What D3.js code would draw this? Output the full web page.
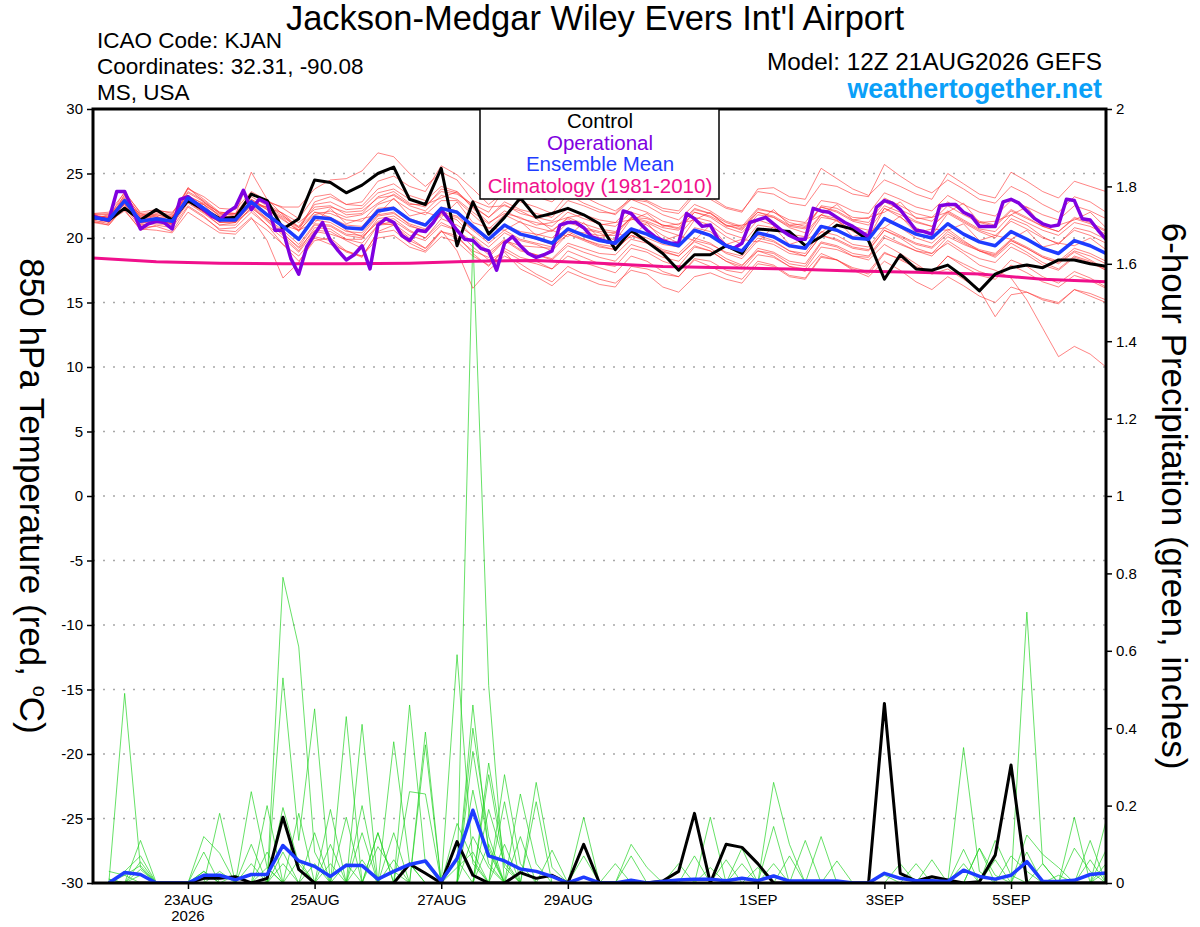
<!DOCTYPE html>
<html><head><meta charset="utf-8">
<script src="https://cdn.jsdelivr.net/npm/d3@7"></script>
<style>
body{margin:0;background:#fff;}
svg{display:block;font-family:"Liberation Sans",Arial,Helvetica,sans-serif;}
</style>
</head><body>
<svg id="chart" width="1200" height="927"></svg>
<script>
// ---------------- DATA ----------------
const titleText = "Jackson-Medgar Wiley Evers Int'l Airport";
const infoLines = ["ICAO Code: KJAN", "Coordinates: 32.31, -90.08", "MS, USA"];
const modelText = "Model: 12Z 21AUG2026 GEFS";
const siteText = "weathertogether.net";
const legendLabels = ["Control", "Operational", "Ensemble Mean", "Climatology (1981-2010)"];
const leftTitle = ["850 hPa Temperature (red, ", "o", "C)"];
const rightTitle = "6-hour Precipitation (green, inches)";

const runStartUTC = Date.UTC(2026, 7, 21, 12);   // 12Z 21 AUG 2026
const forecastHours = 384;
const tempTicks = [30, 25, 20, 15, 10, 5, 0, -5, -10, -15, -20, -25, -30];
const gridTemps = [25, 20, 15, 10, 5, 0, -5, -10, -15, -20, -25];
const precipTicks = [0, 0.2, 0.4, 0.6, 0.8, 1, 1.2, 1.4, 1.6, 1.8, 2];
const dateTicks = [Date.UTC(2026,7,23), Date.UTC(2026,7,25), Date.UTC(2026,7,27), Date.UTC(2026,7,29), Date.UTC(2026,8,1), Date.UTC(2026,8,3), Date.UTC(2026,8,5)];
const dateTickLabels = ["23AUG", "25AUG", "27AUG", "29AUG", "1SEP", "3SEP", "5SEP"];
const yearLabel = "2026";

// 850 hPa temperature, 6-hourly from 0h
const controlTemp = [21.6,21.4,22.3,21.4,22.2,21.4,22.9,22.2, 21.5,21.6,23.4,22.9,20.7,21.5,24.5,24.3, 23.5,24.1,25.0,25.5,23.0,22.6,25.4,19.4, 22.8,20.3,21.6,23.1,21.6,21.9,22.3,21.8, 21.1,19.1,20.6,19.7,18.8,17.5,18.7,18.7, 19.4,18.8,20.7,20.6,20.5,19.4,20.1,21.0, 20.7,19.8,16.8,18.7,17.6,17.5,17.9,17.0, 15.9,17.2,17.7,17.9,17.7,18.3,18.3,18.0, 17.8];
const meanTemp = [21.6,21.4,22.9,21.3,21.5,21.3,23.1,22.3, 21.4,21.4,22.8,21.8,20.9,19.9,21.6,21.5, 20.8,20.7,22.1,22.3,21.4,21.0,22.3,22.0, 20.9,19.9,21.0,20.3,20.0,19.6,20.7,20.2, 19.8,19.6,20.7,20.3,19.7,19.4,20.6,20.2, 19.4,19.0,20.4,20.1,19.4,19.2,20.9,20.6, 20.0,19.9,21.5,20.9,20.3,20.0,21.1,20.3, 19.7,19.4,20.5,19.9,19.2,18.8,19.8,19.4, 18.8];
// operational, 3-hourly from 0h
const operationalTemp = [21.7,21.5,21.4,23.6,23.6,22.2,20.7,21.1, 21.3,21.2,20.7,23.0,23.2,22.7,22.2,21.7, 21.4,22.0,22.4,23.7,22.2,23.0,22.7,20.6, 20.6,18.4,17.2,19.3,20.3,21.2,19.8,19.0, 18.3,18.7,19.4,17.6,21.0,21.5,21.2,20.2, 19.8,20.6,20.5,21.2,22.2,21.4,20.6,19.9, 19.8,19.2,19.0,17.5,19.6,20.1,19.4,18.8, 18.5,18.7,19.0,21.0,21.2,21.2,20.8,20.1, 19.9,19.7,19.6,22.1,21.9,21.2,20.6,20.1, 19.8,19.6,19.6,21.9,21.5,20.9,21.0,19.9, 19.4,19.2,19.6,21.2,21.4,21.6,21.1,20.6, 20.2,19.9,19.9,22.3,22.1,22.0,21.6,21.2, 20.9,20.5,20.1,22.4,22.9,22.7,22.2,21.4, 20.6,20.5,20.3,22.5,22.6,22.6,22.0,21.7, 20.9,20.9,20.9,22.8,23.0,22.7,22.1,21.5, 21.1,20.9,21.0,23.0,22.9,21.5,21.4,20.6, 19.9];
// climatology, daily from 0h
const climatologyTemp = [18.45,18.15,18.05,18.0,18.0,18.05,18.2,18.25,18.05,17.8,17.7,17.6,17.45,17.35,17.2,16.8,16.6];

const ensTemp01 = [21.9,21.2,23.4,21.7,21.7,21.2,23.9,22.8, 21.7,21.6,23.4,22.8,22.4,22.4,23.8,24.5, 24.6,25.2,26.6,26.3,25.0,24.0,25.1,24.5, 22.9,22.4,22.5,22.1,21.5,20.6,21.5,20.7, 20.4,19.8,21.5,21.0,20.2,19.6,21.4,21.0, 20.1,19.5,21.0,20.8,20.3,19.8,21.6,21.4, 20.5,20.0,22.3,21.6,20.8,20.2,21.9,21.2, 20.5,20.0,21.5,21.0,20.1,19.5,20.8,20.5, 19.9];
const ensTemp02 = [21.4,21.6,22.6,21.0,21.2,21.5,22.8,22.0, 21.0,21.2,22.3,21.5,20.4,19.2,20.6,20.5, 19.8,19.2,21.0,21.3,20.5,20.0,21.5,21.0, 20.2,19.3,20.4,19.8,19.5,19.0,20.3,19.9, 19.5,19.3,20.4,20.0,19.5,19.3,20.8,20.5, 19.5,19.0,20.2,19.8,19.0,18.6,20.2,19.8, 19.2,19.0,20.6,20.0,19.2,18.8,19.6,18.8, 17.9,17.5,16.9,15.2,13.0,10.8,11.6,11.0, 10.0];
const ensTemp03 = [21.2,21.0,22.4,20.8,20.9,20.5,22.4,21.6, 20.7,20.8,22.0,21.0,19.5,18.2,19.8,20.0, 19.0,18.6,20.4,20.6,19.6,19.0,20.5,20.2, 18.8,17.8,19.2,18.5,18.2,17.6,19.0,18.5, 18.0,17.8,19.2,18.9,18.2,17.8,19.3,19.0, 18.2,17.6,19.0,18.8,18.0,17.8,19.6,19.3, 18.6,18.3,19.5,18.8,18.0,17.2,17.6,16.8, 16.0,13.9,15.6,15.8,15.2,14.9,16.0,15.5, 15.0];
const ensTemp04 = [21.8,21.9,22.2,20.6,21.0,20.8,22.5,21.7, 20.6,20.5,21.6,19.8,16.9,18.1,20.0,19.5, 19.0,18.5,20.5,21.0,20.0,19.2,20.6,19.0, 16.1,17.5,18.6,18.0,17.2,16.6,17.8,17.2, 16.8,16.5,17.5,17.2,16.2,15.8,17.0,17.3, 16.8,16.5,18.0,17.8,17.0,16.8,18.5,18.3, 17.6,17.2,18.8,18.4,17.8,17.3,18.6,18.0, 17.4,17.0,18.3,17.8,17.0,16.5,17.4,16.9, 16.2];
const ensTemp05 = [21.7,21.5,23.2,21.6,21.9,21.7,23.3,22.6, 21.8,21.9,23.0,22.3,21.6,20.8,22.4,22.5, 21.8,21.9,23.2,23.6,22.7,22.4,23.8,23.5, 22.4,21.6,22.8,22.2,21.9,21.6,22.9,22.5, 22.0,21.9,23.2,22.9,22.3,22.1,23.5,23.2, 22.4,22.1,23.6,23.4,22.7,22.5,24.2,24.0, 23.4,23.2,25.7,24.8,24.0,23.5,24.5,23.8, 23.0,22.7,24.0,23.4,22.6,22.0,23.2,22.8, 22.0];
const ensTemp06 = [21.5,21.3,23.0,21.5,21.8,21.6,23.5,22.8, 21.9,21.8,25.1,23.0,21.8,20.6,22.8,23.2, 22.6,22.8,24.4,24.8,24.0,23.6,25.6,24.9, 23.8,22.6,23.6,22.8,22.4,21.9,23.4,22.7, 22.2,21.8,23.0,22.8,22.1,21.9,23.3,23.0, 22.3,22.0,23.8,23.9,23.2,23.0,25.4,24.6, 23.8,23.3,24.5,24.0,23.4,23.0,25.0,24.2, 23.4,23.1,25.1,24.4,23.6,23.1,24.4,24.0, 23.6];
const ensTemp07 = [21.6,21.5,23.0,21.4,21.6,21.6,23.2,22.4, 21.6,21.5,23.0,22.2,21.5,20.5,22.0,21.9, 21.4,21.3,22.6,23.0,22.2,21.8,22.9,22.9, 21.8,20.7,21.8,21.2,20.8,20.5,21.6,21.1, 20.7,20.5,21.5,21.2,20.6,20.2,21.6,21.3, 20.4,20.0,21.4,21.0,20.3,20.1,21.8,21.5, 20.9,20.6,22.3,21.8,21.2,20.9,22.1,21.4, 20.7,20.5,21.8,21.2,20.6,20.2,21.2,20.9, 20.3];
const ensTemp08 = [21.3,21.0,22.5,21.0,21.1,21.0,22.7,21.9, 21.0,21.0,22.4,21.3,20.2,19.0,20.8,20.7, 19.9,19.6,21.0,21.1,20.2,19.8,21.0,20.6, 19.7,18.7,19.8,19.0,18.7,18.3,19.4,18.9, 18.5,18.2,19.5,19.1,18.5,18.2,19.4,19.0, 18.2,17.8,19.2,18.9,18.2,18.0,19.7,19.4, 18.8,18.6,20.2,19.6,19.0,18.6,19.8,19.0, 18.4,18.1,19.3,18.7,17.9,17.5,18.5,18.1, 17.5];
const ensTemp09 = [21.5,21.8,22.7,21.9,21.4,21.1,22.9,22.6, 21.3,21.6,22.6,22.4,21.0,20.6,21.2,22.3, 21.1,21.5,21.8,23.1,21.7,22.0,21.6,22.8, 21.2,20.8,20.6,21.3,20.2,20.6,20.1,21.2, 20.0,20.4,20.0,21.2,19.8,20.2,19.8,21.0, 19.5,19.9,19.7,20.9,19.5,19.9,20.4,21.4, 20.1,20.5,20.8,21.7,20.4,20.7,20.6,21.1, 19.8,20.2,19.9,20.6,19.3,19.6,19.4,20.0, 19.1];
const ensTemp10 = [21.2,21.3,22.1,20.7,20.6,20.4,22.0,21.2, 20.4,20.3,21.5,20.6,19.5,18.6,20.1,19.8, 18.9,18.6,20.0,20.2,19.3,18.9,20.1,19.7, 18.6,17.9,19.0,18.3,18.0,17.6,18.6,18.1, 17.7,17.3,18.6,18.2,17.4,17.0,18.3,17.8, 17.2,16.8,18.2,17.9,17.1,16.9,18.6,18.3, 17.7,17.4,18.9,18.3,17.7,17.3,18.6,17.8, 17.1,16.8,17.9,17.3,16.6,16.2,17.1,16.7, 16.1];
const ensTemp11 = [21.9,22.0,23.5,22.0,22.2,21.9,23.8,23.2, 22.3,22.2,23.6,22.9,22.3,21.5,23.2,23.4, 22.6,22.5,23.8,24.2,23.3,22.9,24.0,23.6, 22.5,21.6,22.6,21.9,21.6,21.3,22.3,21.8, 21.4,21.2,22.4,22.0,21.3,21.0,22.3,21.9, 21.0,20.6,22.0,21.7,21.0,20.8,22.5,22.3, 21.6,21.5,23.1,22.5,21.9,21.6,22.8,22.0, 21.3,21.0,22.2,21.6,20.9,20.5,21.6,21.2, 20.6];
const ensTemp12 = [21.7,21.2,22.8,21.2,21.3,21.1,22.8,22.0, 21.2,21.3,22.5,21.4,20.3,19.3,21.0,20.9, 20.2,20.0,21.3,21.5,20.6,20.0,21.2,20.6, 19.3,18.3,18.9,17.6,17.0,16.3,17.4,16.9, 16.4,16.2,17.8,17.6,17.2,17.0,18.4,18.2, 17.5,17.3,18.7,18.5,17.8,17.6,19.3,19.1, 18.6,18.5,20.0,19.5,19.0,18.8,20.1,19.5, 19.0,18.6,19.8,19.2,18.5,18.0,18.9,18.3, 17.6];
const ensTemp13 = [21.6,21.7,23.3,21.8,21.8,21.5,23.6,22.9, 21.9,21.7,23.2,22.5,21.7,20.9,22.6,22.8, 22.2,22.3,23.5,23.8,23.0,22.5,23.6,23.4, 22.6,22.0,23.8,23.4,23.2,22.8,23.9,23.2, 22.6,22.1,23.0,22.5,21.8,21.4,22.6,22.1, 21.3,20.9,22.3,22.0,21.2,20.9,22.4,22.0, 21.3,21.0,22.5,22.0,21.3,20.9,22.0,21.3, 20.6,20.2,21.3,20.7,20.0,19.6,20.6,20.2, 19.6];
const ensTemp14 = [21.5,21.4,22.9,21.2,21.4,21.2,23.0,22.1, 21.3,21.3,22.7,21.7,20.8,19.9,21.4,21.2, 20.5,20.4,21.8,22.0,21.0,20.5,21.8,21.6, 20.6,19.6,20.6,19.9,19.6,19.3,20.3,19.8, 19.3,19.1,20.2,19.8,19.1,18.8,20.0,19.6, 18.8,18.4,19.8,19.5,18.8,18.6,20.2,19.9, 19.3,19.1,20.6,20.1,19.5,19.2,20.3,19.6, 19.0,18.7,19.8,19.2,18.5,18.1,19.0,18.6, 18.0];
const ensTemp15 = [21.8,21.6,23.6,21.9,22.0,21.8,23.9,23.0, 22.0,21.9,23.5,22.6,21.9,20.8,22.0,21.6, 20.6,20.1,21.2,21.0,19.8,19.2,20.5,20.0, 19.0,18.5,19.8,19.4,19.3,19.2,20.6,20.4, 20.2,20.2,21.6,21.5,21.0,20.8,22.2,21.9, 21.2,20.8,22.0,21.6,20.8,20.4,21.8,21.3, 20.6,20.2,21.6,20.8,20.0,19.6,20.7,19.8, 19.0,18.5,19.6,18.9,18.1,17.6,18.6,18.2, 17.5];
const ensTemp16 = [21.4,21.1,22.7,21.1,21.4,21.2,22.9,22.2, 21.2,21.2,22.6,21.5,20.6,19.5,21.1,21.0, 20.3,20.2,21.7,21.9,21.1,20.7,22.0,21.7, 20.7,19.8,21.0,20.5,20.3,20.0,21.2,20.8, 20.5,20.4,21.6,21.3,20.8,20.6,22.0,21.7, 21.0,20.7,22.2,22.0,21.4,21.2,22.9,22.7, 22.1,21.9,23.5,23.0,22.4,22.1,23.3,22.6, 22.0,21.7,22.9,22.4,21.8,21.4,22.5,22.1, 21.5];
const ensTemp17 = [21.6,21.3,22.8,21.2,21.5,21.4,23.0,22.2, 21.4,21.5,22.9,21.9,21.0,20.0,21.7,21.6, 21.0,20.9,22.3,22.4,21.5,21.1,22.4,22.1, 21.0,20.0,21.0,20.3,19.9,19.5,20.5,19.9, 19.4,19.1,20.2,19.7,19.0,18.6,19.7,19.2, 18.4,17.9,19.0,18.6,17.8,17.4,18.8,18.3, 17.5,17.0,18.2,17.5,16.6,16.0,17.0,16.3, 15.5,15.0,16.2,15.8,15.3,15.0,16.0,15.7, 15.2];
const ensTemp18 = [21.7,21.6,23.1,21.6,21.3,21.7,22.9,22.6, 21.7,21.6,22.9,22.2,21.4,20.6,21.8,22.1, 21.6,21.8,22.7,23.4,22.6,22.6,23.1,23.6, 22.3,21.2,21.9,21.6,21.0,21.2,21.6,21.8, 21.0,21.2,21.4,21.9,20.9,21.1,21.4,22.0, 20.9,21.0,21.3,22.2,21.0,21.1,21.8,22.6, 21.4,21.6,22.0,22.8,21.5,21.6,22.0,22.7, 21.2,21.3,21.8,22.4,20.9,21.0,21.4,22.0, 20.8];
const ensTemp19 = [21.4,21.5,22.6,21.5,21.7,21.0,23.2,22.0, 21.5,21.2,22.2,21.0,20.0,18.9,20.5,20.3, 19.9,19.9,21.5,21.7,20.9,20.6,21.9,21.4, 20.1,18.9,19.9,19.1,18.7,18.4,19.6,19.2, 18.8,18.7,19.9,19.6,18.9,18.6,19.8,19.5, 18.9,18.6,20.0,19.7,19.0,18.8,20.5,20.2, 19.5,19.3,20.8,20.2,19.6,19.3,20.5,19.7, 19.1,18.8,19.9,19.3,18.6,18.2,19.2,18.8, 18.2];
const ensTemp20 = [21.9,21.8,22.9,21.7,22.1,22.0,23.2,22.7, 22.0,21.9,22.8,22.4,21.9,21.2,22.2,22.4, 22.0,22.1,23.1,23.3,22.5,22.1,23.3,23.0, 22.0,21.1,22.1,21.5,21.2,20.9,22.0,21.5, 21.1,20.9,22.0,21.6,21.0,20.7,22.0,21.6, 20.8,20.4,21.8,21.6,20.9,20.7,22.4,22.1, 21.4,21.2,22.8,22.2,21.6,21.3,22.5,21.8, 21.2,20.9,22.1,21.5,20.9,20.5,21.5,21.1, 20.5];

// 6-hour precipitation (inches), 6-hourly from 6h
const controlPrecip = [0,0,0,0,0,0,0.012,0.012, 0.016,0,0.012,0.17,0.035,0,0,0, 0,0,0,0.049,0.025,0,0.107,0.02, 0,0,0.027,0.012,0.02,0,0.1,0, 0,0,0,0.005,0.03,0.18,0,0.1, 0.092,0.05,0,0,0,0,0,0, 0,0.464,0.025,0.005,0.016,0.008,0,0.003, 0.072,0.305,0,0,0,0,0,0];
const meanPrecip = [0,0.027,0.022,0,0,0,0.02,0.02, 0.008,0.022,0.022,0.097,0.057,0.043,0.017,0.046, 0.045,0.01,0.03,0.048,0.057,0.005,0.063,0.188, 0.07,0.057,0.036,0.03,0.017,0,0.015,0, 0,0.007,0,0.004,0.008,0.01,0.01,0.006, 0.012,0.006,0.018,0.005,0.005,0.005,0.005,0, 0,0.025,0.012,0.006,0.006,0.004,0.033,0.017, 0.01,0.02,0.055,0.004,0.004,0.007,0.022,0.026];
const ensPrecip01 = [0.03,0.02,0,0,0,0,0,0, 0,0,0,0.79,0.61,0.08,0,0, 0,0,0,0,0,0,0,0.24, 0.05,0,0,0,0,0,0,0, 0,0,0,0,0,0.07,0,0, 0,0,0,0,0,0,0,0, 0,0,0,0,0,0,0,0.09, 0,0,0,0,0,0,0,0];
const ensPrecip02 = [0,0.49,0.04,0,0,0,0,0, 0,0,0,0,0,0,0.05,0, 0,0,0.365,0.05,0,0,0,0, 0.28,0.04,0,0,0,0,0,0, 0,0,0,0,0,0,0.17,0, 0,0,0,0,0,0,0,0, 0,0,0,0,0,0,0,0.09, 0.02,0,0,0,0,0,0,0];
const ensPrecip03 = [0.01,0,0.11,0,0,0,0,0, 0,0,0.08,0,0,0,0,0.05, 0,0,0,0,0,0,0,0.12, 0.04,0,0,0,0,0,0,0, 0,0,0,0,0,0,0.04,0, 0,0,0,0,0,0,0,0, 0,0,0,0,0,0,0,0, 0.11,0.02,0,0,0,0,0,0];
const ensPrecip04 = [0,0.03,0.07,0,0,0,0,0, 0,0,0,0.195,0.05,0,0,0, 0,0,0.13,0,0,0,0,0, 0.19,0.05,0,0,0,0,0,0, 0,0,0,0,0,0,0,0.06, 0,0,0,0,0,0,0,0, 0,0,0,0,0,0,0,0, 0,0.07,0.03,0,0,0,0,0];
const ensPrecip05 = [0,0,0.055,0,0,0,0,0, 0.02,0,0,0.08,0,0,0,0, 0,0.13,0,0,0,0,0,0, 0.31,0.06,0,0,0,0,0,0, 0,0,0,0,0,0,0,0, 0.09,0,0,0,0,0,0,0, 0,0,0,0,0,0,0,0, 0,0,0.70,0.05,0,0,0,0];
const ensPrecip06 = [0,0.02,0.045,0,0,0,0,0, 0,0,0,0.05,0,0,0,0, 0,0.094,0.03,0,0,0,0,0, 0.1,0,0,0,0,0,0,0, 0,0,0,0,0,0,0,0, 0.05,0,0,0,0,0,0,0, 0,0,0,0,0,0,0,0, 0,0,0.124,0.074,0.04,0,0,0];
const ensPrecip07 = [0,0,0.035,0,0,0,0,0, 0,0,0,0,0.18,0,0,0, 0,0,0.06,0,0,0,0,0, 0,0.28,0.05,0,0,0,0,0, 0,0,0,0,0,0,0,0, 0,0.04,0,0,0,0,0,0, 0,0,0,0,0,0,0,0, 0,0,0.08,0,0,0,0,0];
const ensPrecip08 = [0.01,0,0.02,0,0,0,0,0, 0,0,0,0,0.06,0,0,0, 0,0,0,0.46,0.05,0,0,0, 0,0.21,0,0,0,0,0,0, 0,0,0,0,0,0,0,0, 0,0,0.26,0.1,0,0,0,0, 0,0,0,0,0,0,0,0, 0,0,0,0,0,0.17,0,0];
const ensPrecip09 = [0,0,0,0,0,0,0.12,0.077, 0,0,0,0,0,0.05,0,0, 0,0,0,0.236,0.23,0,0,0, 0,0.1,0,0,0,0,0,0, 0,0,0,0,0,0,0,0, 0,0,0.146,0,0,0,0,0, 0,0,0,0,0,0,0,0, 0,0,0,0,0,0.09,0.03,0];
const ensPrecip10 = [0,0,0,0,0,0,0.08,0, 0,0,0,0,0,0.13,0,0, 0,0,0,0.05,0,0,0,0, 0,0,0.23,0.05,0,0,0,0, 0,0,0,0,0,0,0,0, 0,0,0.05,0,0,0,0,0, 0,0,0,0,0,0,0,0, 0,0,0,0,0,0,0.11,0];
const ensPrecip11 = [0,0,0,0,0,0,0.03,0, 0,0,0,0,0,0,0.19,0, 0,0,0,0,0.39,0,0,0, 0,0,0.12,0,0,0,0,0, 0,0,0,0,0,0,0,0, 0,0,0,0.07,0,0,0,0, 0,0,0,0,0,0,0,0, 0,0,0,0,0,0,0,0.16];
const ensPrecip12 = [0,0,0,0,0,0,0.03,0, 0,0,0,0,0,0,0.1,0, 0,0,0,0,0.357,0,0,0, 0,0,0,0.26,0.04,0,0,0, 0,0,0,0,0,0,0,0, 0,0,0,0,0.11,0,0,0, 0,0,0,0,0,0,0,0, 0,0,0,0,0,0,0,0.085];
const ensPrecip13 = [0,0,0,0,0,0,0,0.18, 0,0,0,0,0,0,0,0.43, 0,0,0,0,0,0,0.59,0.05, 0,0,0,0.21,0,0,0,0, 0,0,0,0,0,0,0,0, 0,0,0,0,0,0.12,0,0, 0,0,0,0,0,0,0,0, 0,0,0,0,0,0,0,0.05];
const ensPrecip14 = [0,0,0,0,0,0,0,0.03, 0,0,0,0,0,0,0,0.17, 0,0,0,0,0,0,0.154,0.06, 0,0,0,0,0.085,0,0,0, 0,0,0,0,0,0,0,0, 0,0,0,0,0,0,0.057,0, 0,0,0,0,0,0,0,0, 0,0,0,0,0,0,0.06,0];
const ensPrecip15 = [0,0,0,0,0,0,0,0, 0,0.236,0.04,0,0,0,0,0, 0.41,0,0,0,0,0,0.06,0, 0,0,0,0,0,0,0.17,0, 0,0,0,0,0,0,0,0, 0,0,0,0,0,0,0,0, 0,0.02,0,0,0,0,0.05,0, 0,0,0,0,0,0,0,0];
const ensPrecip16 = [0,0,0,0,0,0,0,0, 0,0.1,0,0,0,0,0,0, 0.2,0,0,0,0,0,0.04,0.08, 0,0,0,0,0,0,0.07,0, 0,0,0,0,0,0,0,0, 0,0,0,0,0,0,0,0, 0,0,0.05,0,0,0,0,0, 0,0,0,0.05,0,0,0,0];
const ensPrecip17 = [0,0,0,0,0,0,0,0, 0,0.05,0,0,0,0,0,0, 0.13,0,0,0,0,0,0,1.67, 0.51,0,0,0,0,0,0,0, 0.05,0,0,0,0,0,0,0, 0,0,0,0,0,0,0,0, 0,0,0,0.05,0,0,0,0, 0.06,0,0,0,0,0,0,0];
const ensPrecip18 = [0,0,0,0,0,0,0,0, 0,0,0.2,0,0,0,0,0, 0.06,0,0,0,0,0,0,0.46, 0.08,0,0,0,0,0,0,0, 0,0.1,0.04,0,0,0,0,0, 0,0,0,0,0,0,0,0, 0,0,0,0,0.06,0,0,0, 0,0,0,0,0.02,0,0,0];
const ensPrecip19 = [0,0,0,0,0,0,0,0, 0,0,0.04,0,0,0,0,0, 0,0.13,0,0,0,0,0,0.40, 0.12,0,0,0,0,0,0,0, 0,0.07,0,0,0,0,0,0, 0,0,0,0,0,0,0,0, 0,0,0,0,0,0,0.35,0.03, 0,0,0,0,0,0,0,0];
const ensPrecip20 = [0,0,0,0,0,0,0,0, 0,0,0,0.53,0.11,0.45,0,0, 0,0,0,0,0,0,0,0.34, 0.09,0,0,0,0,0,0,0, 0,0,0,0,0.05,0,0,0, 0,0,0,0,0,0,0,0, 0,0,0,0,0,0,0.087,0, 0,0,0,0,0,0,0,0.03];

const ensembleTemp = [ensTemp01,ensTemp02,ensTemp03,ensTemp04,ensTemp05,ensTemp06,ensTemp07,ensTemp08,ensTemp09,ensTemp10,ensTemp11,ensTemp12,ensTemp13,ensTemp14,ensTemp15,ensTemp16,ensTemp17,ensTemp18,ensTemp19,ensTemp20];
const ensemblePrecip = [ensPrecip01,ensPrecip02,ensPrecip03,ensPrecip04,ensPrecip05,ensPrecip06,ensPrecip07,ensPrecip08,ensPrecip09,ensPrecip10,ensPrecip11,ensPrecip12,ensPrecip13,ensPrecip14,ensPrecip15,ensPrecip16,ensPrecip17,ensPrecip18,ensPrecip19,ensPrecip20];

// ---------------- DRAWING ----------------
const HOUR = 3600e3;
const M = {left: 93, right: 1106, top: 109, bottom: 883};
const svg = d3.select("#chart");

const x = d3.scaleUtc()
  .domain([new Date(runStartUTC), new Date(runStartUTC + forecastHours * HOUR)])
  .range([M.left, M.right]);
const yT = d3.scaleLinear().domain([-30, 30]).range([M.bottom, M.top]);
const yP = d3.scaleLinear().domain([0, 2]).range([M.bottom, M.top]);

const series = (arr, stepH, offsetH) => arr.map((v, i) => ({t: new Date(runStartUTC + (offsetH + i * stepH) * HOUR), v}));
const lineT = d3.line().x(d => x(d.t)).y(d => yT(d.v));
const lineP = d3.line().x(d => x(d.t)).y(d => yP(d.v));

svg.append("defs").append("clipPath").attr("id", "plotclip")
  .append("rect").attr("x", M.left).attr("y", M.top).attr("width", M.right - M.left).attr("height", M.bottom - M.top);

// grid
svg.append("g").selectAll("line").data(gridTemps).join("line")
  .attr("x1", M.left).attr("x2", M.right)
  .attr("y1", d => yT(d)).attr("y2", d => yT(d))
  .attr("stroke", "#a8a8a8").attr("stroke-width", 1.4).attr("stroke-dasharray", "2,8");

const plot = svg.append("g").attr("clip-path", "url(#plotclip)");

// ensemble temps
plot.append("g").selectAll("path").data(ensembleTemp).join("path")
  .attr("d", d => lineT(series(d, 6, 0)))
  .attr("fill", "none").attr("stroke", "#ff3030").attr("stroke-width", 0.8).attr("stroke-opacity", 0.75);
// ensemble precip
plot.append("g").selectAll("path").data(ensemblePrecip).join("path")
  .attr("d", d => lineP(series(d, 6, 6)))
  .attr("fill", "none").attr("stroke", "#1ed21e").attr("stroke-width", 0.8).attr("stroke-opacity", 0.85);
// climatology
plot.append("path").attr("d", lineT(series(climatologyTemp, 24, 0)))
  .attr("fill", "none").attr("stroke", "#f0108c").attr("stroke-width", 3);
// control
plot.append("path").attr("d", lineT(series(controlTemp, 6, 0)))
  .attr("fill", "none").attr("stroke", "#000").attr("stroke-width", 3).attr("stroke-linejoin", "round");
plot.append("path").attr("d", lineP(series(controlPrecip, 6, 6)))
  .attr("fill", "none").attr("stroke", "#000").attr("stroke-width", 3).attr("stroke-linejoin", "round");
// operational
plot.append("path").attr("d", lineT(series(operationalTemp, 3, 0)))
  .attr("fill", "none").attr("stroke", "#8000e0").attr("stroke-width", 3.5).attr("stroke-linejoin", "round");
// mean
plot.append("path").attr("d", lineT(series(meanTemp, 6, 0)))
  .attr("fill", "none").attr("stroke", "#1e3cff").attr("stroke-width", 3.5).attr("stroke-linejoin", "round");
plot.append("path").attr("d", lineP(series(meanPrecip, 6, 6)))
  .attr("fill", "none").attr("stroke", "#1e3cff").attr("stroke-width", 3.5).attr("stroke-linejoin", "round");

// axes
const axisFont = 15;
const gL = svg.append("g").attr("transform", `translate(${M.left},0)`)
  .call(d3.axisLeft(yT).tickValues(tempTicks).tickSize(6).tickPadding(4).tickFormat(d => String(d)));
const gR = svg.append("g").attr("transform", `translate(${M.right},0)`)
  .call(d3.axisRight(yP).tickValues(precipTicks).tickSize(6).tickPadding(4).tickFormat(d => String(+d.toFixed(1))));
const gB = svg.append("g").attr("transform", `translate(0,${M.bottom})`)
  .call(d3.axisBottom(x).tickValues(dateTicks.map(d => new Date(d))).tickSize(6).tickPadding(5).tickFormat((d, i) => dateTickLabels[i]));
[gL, gR, gB].forEach(g => {
  g.select(".domain").remove();
  g.selectAll(".tick line").attr("stroke", "#000").attr("stroke-width", 1.5);
  g.selectAll(".tick text").attr("font-size", axisFont).attr("font-family", "Liberation Sans, Arial, sans-serif").attr("fill", "#000");
});
svg.append("text").attr("x", x(new Date(dateTicks[0]))).attr("y", 921)
  .attr("text-anchor", "middle").attr("font-size", axisFont).text(yearLabel);

// frame
svg.append("rect").attr("x", M.left).attr("y", M.top).attr("width", M.right - M.left).attr("height", M.bottom - M.top)
  .attr("fill", "none").attr("stroke", "#000").attr("stroke-width", 3);

// legend
const lg = svg.append("g");
lg.append("rect").attr("x", 480).attr("y", M.top).attr("width", 239).attr("height", 90)
  .attr("fill", "#fff").attr("stroke", "#000").attr("stroke-width", 1.5);
const legendColors = ["#000", "#8000e0", "#1e3cff", "#f0108c"];
lg.selectAll("text.lgt").data(legendLabels).join("text").attr("class", "lgt")
  .attr("x", 600).attr("y", (d, i) => 128 + i * 21.5)
  .attr("text-anchor", "middle").attr("font-size", 20.5)
  .attr("fill", (d, i) => legendColors[i]).text(d => d);

// titles
svg.append("text").attr("x", 595).attr("y", 30).attr("text-anchor", "middle")
  .attr("font-size", 34.5).attr("fill", "#000").text(titleText);
svg.selectAll("text.info").data(infoLines).join("text").attr("class", "info")
  .attr("x", 97).attr("y", (d, i) => 48 + i * 26).attr("font-size", 22.5).attr("fill", "#000").text(d => d);
svg.append("text").attr("x", 1102).attr("y", 70).attr("text-anchor", "end")
  .attr("font-size", 24.3).attr("fill", "#000").text(modelText);
svg.append("text").attr("x", 1102).attr("y", 98).attr("text-anchor", "end")
  .attr("font-size", 26.8).attr("font-weight", "bold").attr("fill", "#0aa0f8").text(siteText);

// axis titles (rotated, reading top to bottom)
const lt = svg.append("text").attr("transform", "translate(20,496) rotate(90)")
  .attr("text-anchor", "middle").attr("font-size", 35).attr("fill", "#000");
lt.append("tspan").text(leftTitle[0]);
lt.append("tspan").attr("dy", -13).attr("font-size", 20).text(leftTitle[1]);
lt.append("tspan").attr("dy", 13).text(leftTitle[2]);
svg.append("text").attr("transform", "translate(1162,496) rotate(90)")
  .attr("text-anchor", "middle").attr("font-size", 35).attr("fill", "#000").text(rightTitle);
</script>
</body></html>
